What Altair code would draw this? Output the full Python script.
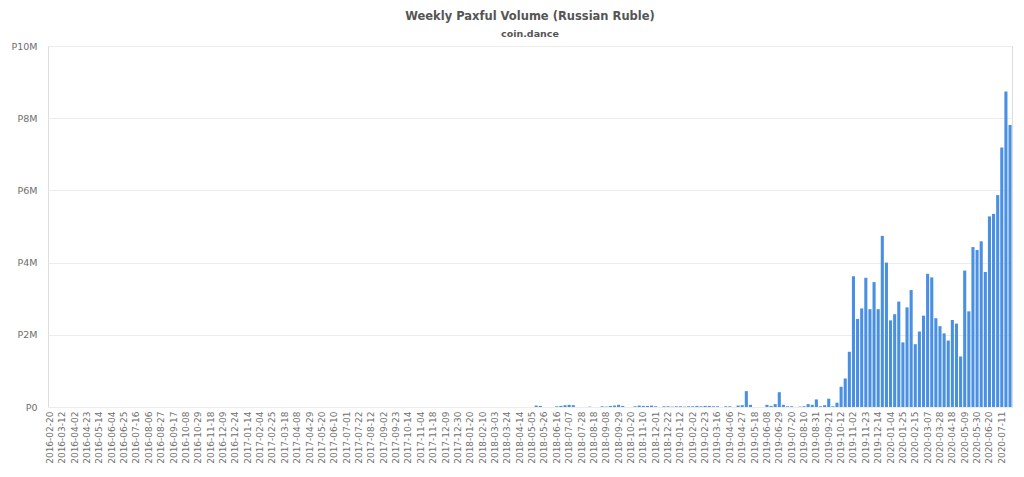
import datetime as dt
import altair as alt
import pandas as pd

# Tick labels shown on the x axis (every third week)
tick_labels = [
    "2016-02-20", "2016-03-12", "2016-04-02", "2016-04-23", "2016-05-14", "2016-06-04",
    "2016-06-25", "2016-07-16", "2016-08-06", "2016-08-27", "2016-09-17", "2016-10-08",
    "2016-10-29", "2016-11-18", "2016-12-09", "2016-12-24",
    "2017-01-14", "2017-02-04", "2017-02-25", "2017-03-18", "2017-04-08", "2017-04-29",
    "2017-05-20", "2017-06-10", "2017-07-01", "2017-07-22", "2017-08-12", "2017-09-02",
    "2017-09-23", "2017-10-14", "2017-11-04", "2017-11-18", "2017-12-09", "2017-12-30",
    "2018-01-20", "2018-02-10", "2018-03-03", "2018-03-24", "2018-04-14", "2018-05-05",
    "2018-05-26", "2018-06-16", "2018-07-07", "2018-07-28", "2018-08-18", "2018-09-08",
    "2018-09-29", "2018-10-20", "2018-11-10", "2018-12-01", "2018-12-22",
    "2019-01-12", "2019-02-02", "2019-02-23", "2019-03-16", "2019-04-06", "2019-04-27",
    "2019-05-18", "2019-06-08", "2019-06-29", "2019-07-20", "2019-08-10", "2019-08-31",
    "2019-09-21", "2019-10-12", "2019-11-02", "2019-11-23", "2019-12-14",
    "2020-01-04", "2020-01-25", "2020-02-15", "2020-03-07", "2020-03-28", "2020-04-18",
    "2020-05-09", "2020-05-30", "2020-06-20", "2020-07-11",
]

# Weekly volume, millions of rubles (one value per week)
volume_m = [
    0, 0, 0, 0, 0, 0, 0, 0, 0, 0,
    0, 0, 0, 0, 0, 0, 0, 0, 0, 0,
    0, 0, 0, 0, 0, 0, 0, 0, 0, 0,
    0, 0, 0, 0, 0, 0, 0, 0, 0, 0,
    0, 0, 0, 0, 0, 0, 0, 0, 0, 0,
    0, 0, 0, 0, 0, 0, 0, 0, 0, 0,
    0, 0, 0, 0, 0, 0, 0, 0, 0, 0,
    0, 0, 0, 0, 0, 0, 0, 0, 0, 0,
    0, 0, 0, 0, 0, 0, 0, 0, 0, 0,
    0, 0, 0, 0, 0, 0, 0, 0, 0, 0,
    0, 0, 0, 0, 0, 0, 0, 0, 0, 0,
    0, 0, 0, 0, 0, 0, 0,
    0, 0.04, 0.03, 0, 0, 0, 0.02, 0.03, 0.05, 0.06,
    0.05, 0, 0, 0, 0.01, 0, 0, 0.02, 0.01, 0.03,
    0.04, 0.06, 0.03, 0, 0, 0.02, 0.04, 0.03, 0.03, 0.04,
    0.02, 0, 0.02, 0.02, 0.01, 0.02, 0.02, 0.01, 0.02, 0.02,
    0.03, 0.02, 0.03, 0.03, 0.02, 0.02, 0, 0.02, 0.02, 0,
    0.04, 0.05, 0.44, 0.06, 0, 0, 0, 0.06, 0.03, 0.08,
    0.41, 0.06, 0.02, 0.02, 0, 0.01, 0.02, 0.08, 0.06, 0.21,
    0.02, 0.05, 0.23, 0.02, 0.12, 0.56, 0.79, 1.53, 3.62, 2.44,
    2.73, 3.58, 2.71, 3.46, 2.71, 4.74, 4.00, 2.40, 2.57, 2.92,
    1.79, 2.76, 3.24, 1.74, 2.09, 2.53, 3.69, 3.59, 2.46, 2.24,
    2.04, 1.84, 2.41, 2.31, 1.40, 3.78, 2.65, 4.43, 4.35, 4.59,
    3.74, 5.28, 5.35, 5.87, 7.19, 8.74, 7.81,
]

y_ticks = [0, 2, 4, 6, 8, 10]

# Week keys: the labelled weeks plus the two unlabelled weeks between them
weeks = []
for a, b in zip(tick_labels, tick_labels[1:]):
    da, db = dt.date.fromisoformat(a), dt.date.fromisoformat(b)
    gap = (db - da).days
    weeks += [a,
              (da + dt.timedelta(days=round(gap / 3))).isoformat(),
              (da + dt.timedelta(days=round(2 * gap / 3))).isoformat()]
last = dt.date.fromisoformat(tick_labels[-1])
weeks += [tick_labels[-1],
          (last + dt.timedelta(days=7)).isoformat(),
          (last + dt.timedelta(days=14)).isoformat()]

assert len(weeks) == len(volume_m), (len(weeks), len(volume_m))

df = pd.DataFrame({"week": weeks, "volume": volume_m})

chart = alt.Chart(df).mark_bar(color="#4a90e2").encode(
    x=alt.X("week:N", sort=None,
            scale=alt.Scale(paddingInner=0.25, paddingOuter=0.1),
            axis=alt.Axis(title=None, values=tick_labels, labelAngle=-90,
                          labelFontSize=9, labelColor="#6e6e6e", labelFont="DejaVu Sans",
                          ticks=False, domain=False, labelPadding=4, labelOverlap=False,
                          labelBaseline="middle", labelAlign="right")),
    y=alt.Y("volume:Q",
            scale=alt.Scale(domain=[0, 10]),
            axis=alt.Axis(title=None, values=y_ticks,
                          labelExpr="datum.value == 0 ? 'P0' : 'P' + datum.value + 'M'",
                          labelFontSize=9.5, labelColor="#6e6e6e", labelFont="DejaVu Sans",
                          ticks=False, domain=False, labelPadding=11,
                          grid=True, gridColor="#ececec", gridWidth=1)),
).properties(
    width=964,
    height=361,
    autosize=alt.AutoSizeParams(type="none"),
    padding={"left": 40, "top": 38, "right": 2, "bottom": 60},
    title=alt.TitleParams(
        text="Weekly Paxful Volume (Russian Ruble)",
        subtitle="coin.dance",
        anchor="middle",
        font="DejaVu Sans", fontSize=11.5, fontWeight="bold", color="#555555",
        subtitleFont="DejaVu Sans", subtitleFontSize=9.5, subtitleFontWeight="bold",
        subtitleColor="#555555", subtitlePadding=6, offset=3,
    ),
).configure_view(stroke=None).configure(background="white")

chart.save("out.html", embed_options={"renderer": "svg", "actions": False})
